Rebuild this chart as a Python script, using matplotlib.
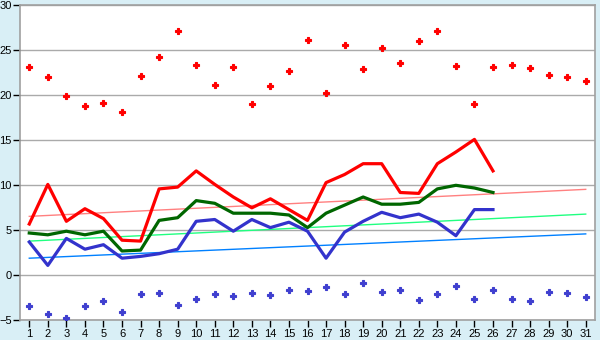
import numpy as np
import matplotlib.pyplot as plt

days = list(range(1, 32))

# daily extremes (markers)
max_pts = [23.1, 22.0, 19.9, 18.8, 19.1, 18.1, 22.2, 24.3, 27.1, 23.4,
           21.2, 23.1, 19.0, 21.0, 22.7, 26.2, 20.3, 25.6, 22.9, 25.3,
           23.6, 26.0, 27.1, 23.3, 19.0, 23.1, 23.4, 23.0, 22.3, 22.0, 21.6]
min_pts = [-3.4, -4.3, -4.7, -3.4, -2.8, -4.1, -2.1, -2.0, -3.3, -2.6,
           -2.1, -2.3, -2.0, -2.2, -1.6, -1.7, -1.3, -2.1, -0.9, -1.8,
           -1.6, -2.7, -2.1, -1.2, -2.6, -1.6, -2.6, -2.9, -1.8, -2.0, -2.4]

# current month lines (days 1-26)
red_line = [5.7, 10.1, 6.0, 7.4, 6.3, 3.9, 3.8, 9.6, 9.8, 11.6,
            10.1, 8.7, 7.5, 8.5, 7.3, 6.1, 10.3, 11.2, 12.4, 12.4,
            9.2, 9.1, 12.4, 13.7, 15.1, 11.6]
green_line = [4.7, 4.5, 4.9, 4.5, 4.9, 2.7, 2.8, 6.1, 6.4, 8.3,
              8.0, 6.9, 6.9, 6.9, 6.7, 5.3, 6.9, 7.8, 8.7, 7.9,
              7.9, 8.1, 9.6, 10.0, 9.7, 9.2]
blue_line = [3.7, 1.1, 4.1, 2.9, 3.4, 1.9, 2.1, 2.4, 2.9, 6.0,
             6.2, 4.9, 6.2, 5.3, 5.9, 4.9, 1.9, 4.8, 6.0, 7.0,
             6.4, 6.8, 5.9, 4.4, 7.3, 7.3]

# trend lines (value on day 1, value on day 31)
trend_days = [1, 31]
trend_red = [6.55, 9.55]
trend_green = [3.8, 6.8]
trend_blue = [1.9, 4.6]

plt.rcParams['font.family'] = ['Liberation Sans', 'DejaVu Sans']

bg = '#d9eff6'
fig = plt.figure(figsize=(6, 3.4), dpi=100, facecolor=bg)
ax = fig.add_axes([20 / 600, 1 - 320.3 / 340, 575 / 600, 315 / 340])
ax.set_facecolor('white')

ax.plot(trend_days, trend_red, color='#ff8080', lw=1, zorder=2)
ax.plot(trend_days, trend_green, color='#20ff80', lw=1, zorder=2)
ax.plot(trend_days, trend_blue, color='#0080ff', lw=1, zorder=2)

n = len(red_line)
ax.plot(days[:n], red_line, color='#ff0000', lw=2.3, zorder=3)
ax.plot(days[:n], green_line, color='#006600', lw=2.3, zorder=3)
ax.plot(days[:n], blue_line, color='#3333cc', lw=2.3, zorder=3)

ax.plot(days, max_pts, 'P', color='#ff0000', ms=4.5, mew=0.8, zorder=4)
ax.plot(days, min_pts, 'P', color='#3f3fcf', ms=4.5, mew=0.8, zorder=4)

ax.set_xlim(0.5, 31.5)
ax.set_ylim(-5, 30)
ax.set_xticks(days)
ax.set_yticks(range(-5, 31, 5))
ax.yaxis.grid(True, color='#aaaaaa', lw=1)
ax.set_axisbelow(True)
for s in ax.spines.values():
    s.set_color('#a0a0a0')
    s.set_linewidth(1.2)
ax.tick_params(axis='both', direction='out', length=5, width=1, color='black',
               labelsize=8)
ax.tick_params(axis='y', pad=1)
ax.tick_params(axis='x', pad=1.5)

plt.savefig('out.png', dpi=100, facecolor=bg)
